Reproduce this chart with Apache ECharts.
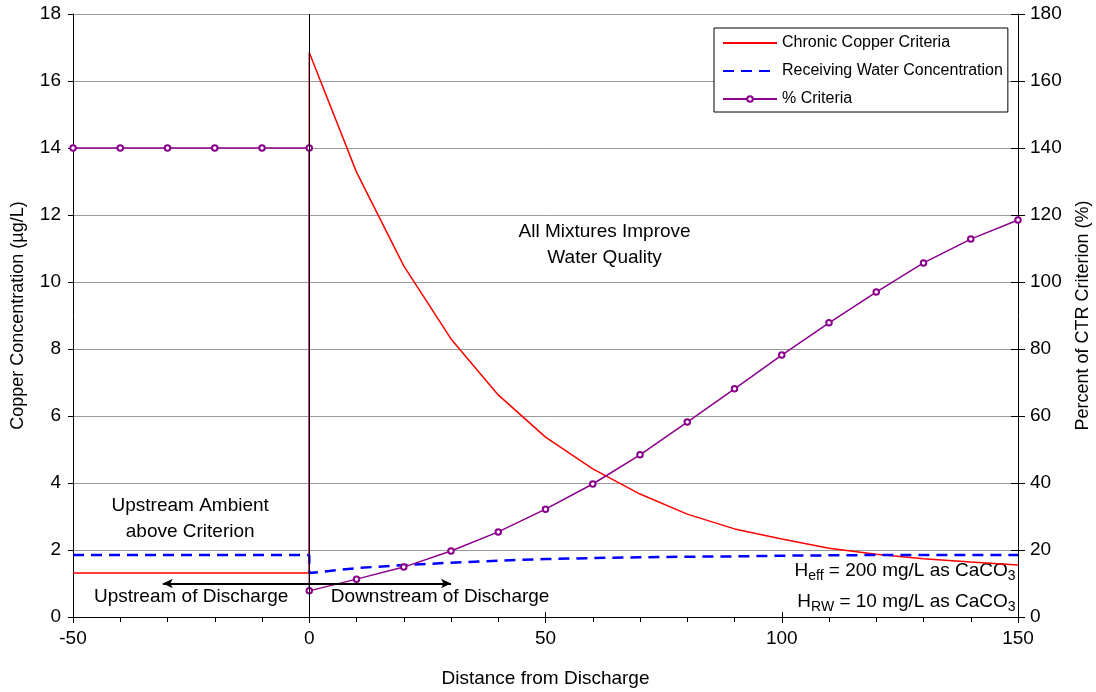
<!DOCTYPE html>
<html>
<head>
<meta charset="utf-8">
<script src="https://cdn.jsdelivr.net/npm/echarts@6/dist/echarts.min.js"></script>
<style>
html,body{margin:0;padding:0;background:#fff;}
#chart{width:1096px;height:692px;}
</style>
</head>
<body>
<div id="chart"></div>
<script>
// ---- data ----
const xTicks = [-50, 0, 50, 100, 150];
const criteriaX = [-50, 0, 0, 10, 20, 30, 40, 50, 60, 70, 80, 90, 100, 110, 120, 130, 140, 150];
const criteriaY = [1.31, 1.31, 16.85, 13.28, 10.48, 8.3, 6.63, 5.37, 4.42, 3.67, 3.07, 2.63, 2.33, 2.05, 1.87, 1.74, 1.64, 1.55];
const receivingX = [-50, 0, 0, 10, 20, 30, 40, 50, 60, 70, 80, 90, 100, 110, 120, 130, 140, 150];
const receivingY = [1.85, 1.85, 1.31, 1.46, 1.55, 1.62, 1.68, 1.73, 1.76, 1.78, 1.80, 1.81, 1.83, 1.84, 1.85, 1.85, 1.85, 1.85];
const percentX = [-50, -40, -30, -20, -10, 0, 0, 10, 20, 30, 40, 50, 60, 70, 80, 90, 100, 110, 120, 130, 140, 150];
const percentY = [140, 140, 140, 140, 140, 140, 7.8, 11.3, 14.9, 19.7, 25.4, 32.2, 39.7, 48.4, 58.2, 68.1, 78.2, 87.8, 97.0, 105.7, 112.8, 118.5];
const seriesNames = ['Chronic Copper Criteria', 'Receiving Water Concentration', '% Criteria'];
const arrowFrom = [-31, 1.0];
const arrowTo = [30, 1.0];
const notes = [
  {text: 'Upstream Ambient\nabove Criterion', at: [-25.2, 2.93], align: 'center'},
  {text: 'Upstream of Discharge', at: [-25, 0.6], align: 'center'},
  {text: 'Downstream of Discharge', at: [27.7, 0.6], align: 'center'},
  {text: 'All Mixtures Improve\nWater Quality', at: [62.5, 11.1], align: 'center'},
  {text: '{n|H}{s|eff}{n| = 200 mg/L as CaCO}{s|3}', at: [149.5, 1.38], align: 'right'},
  {text: '{n|H}{s|RW}{n| = 10 mg/L as CaCO}{s|3}', at: [149.5, 0.46], align: 'right'}
];

const zip = (xs, ys) => xs.map((x, i) => [x, ys[i]]);
const FONT = '"Liberation Sans", Arial, sans-serif';

const chart = echarts.init(document.getElementById('chart'), null, {renderer: 'canvas'});
const option = {
  animation: false,
  backgroundColor: '#ffffff',
  textStyle: {fontFamily: FONT, color: '#000'},
  grid: {left: 73, right: 78, top: 14, bottom: 75, containLabel: false, outerBoundsMode: 'none'},
  legend: {
    data: [
      {name: seriesNames[0], itemStyle: {opacity: 0}},
      {name: seriesNames[1], itemStyle: {opacity: 0}},
      {name: seriesNames[2]}
    ],
    orient: 'vertical',
    left: 714, top: 28,
    backgroundColor: '#fff',
    borderColor: '#000', borderWidth: 1,
    padding: [6, 5, 4, 8],
    itemWidth: 54, itemHeight: 7, itemGap: 10,
    textStyle: {fontFamily: FONT, fontSize: 16, color: '#000', padding: [0, 0, 0, 0], lineHeight: 18}
  },
  xAxis: [{
    type: 'value', min: -50, max: 150, interval: 50,
    name: 'Distance from Discharge', nameLocation: 'middle', nameGap: 52,
    nameTextStyle: {fontFamily: FONT, fontSize: 19, color: '#000'},
    axisLine: {show: true, onZero: false, lineStyle: {color: '#000', width: 1}},
    axisTick: {show: true, length: 6, lineStyle: {color: '#000'}},
    minorTick: {show: true, splitNumber: 5, length: 5, lineStyle: {color: '#000'}},
    axisLabel: {fontFamily: FONT, fontSize: 19, color: '#000', margin: 12,
      formatter: v => xTicks.includes(v) ? String(v) : ''},
    splitLine: {show: false}
  }, {
    type: 'value', min: -50, max: 150, interval: 50, position: 'bottom',
    axisLine: {show: false, onZero: false},
    axisTick: {show: true, inside: true, length: 5, lineStyle: {color: '#000'}},
    axisLabel: {show: false}, splitLine: {show: false}
  }],
  yAxis: [{
    type: 'value', min: 0, max: 18, interval: 2, position: 'left',
    name: 'Copper Concentration (µg/L)', nameLocation: 'middle', nameGap: 46, nameRotate: 90,
    nameTextStyle: {fontFamily: FONT, fontSize: 18, color: '#000'},
    axisLine: {show: true, onZero: false, lineStyle: {color: '#000', width: 1}},
    axisTick: {show: true, length: 5, lineStyle: {color: '#000'}},
    axisLabel: {fontFamily: FONT, fontSize: 19, color: '#000', margin: 12},
    splitLine: {show: true, lineStyle: {color: '#999', width: 1}}
  }, {
    type: 'value', min: 0, max: 180, interval: 20, position: 'right',
    name: 'Percent of CTR Criterion (%)', nameLocation: 'middle', nameGap: 56, nameRotate: 90,
    nameTextStyle: {fontFamily: FONT, fontSize: 18, color: '#000'},
    axisLine: {show: true, onZero: false, lineStyle: {color: '#000', width: 1}},
    axisTick: {show: true, length: 7, lineStyle: {color: '#000'}},
    axisLabel: {fontFamily: FONT, fontSize: 19, color: '#000', margin: 12},
    splitLine: {show: false}
  }, {
    type: 'value', min: 0, max: 180, interval: 20, position: 'right',
    axisLine: {show: false, onZero: false},
    axisTick: {show: true, inside: true, length: 7, lineStyle: {color: '#000'}},
    axisLabel: {show: false}, splitLine: {show: false}
  }],
  series: [
    {
      name: 'annotations', type: 'scatter', xAxisIndex: 0, yAxisIndex: 0,
      symbolSize: 1, itemStyle: {color: 'rgba(0,0,0,0)', opacity: 1}, silent: true, z: 1,
      data: notes.map(n => ({
        value: n.at,
        label: {
          show: true, position: 'inside', formatter: n.text, align: n.align,
          verticalAlign: 'middle',
          fontFamily: FONT, fontSize: 19, color: '#000', lineHeight: 26,
          rich: {
            n: {fontFamily: FONT, fontSize: 19, color: '#000'},
            s: {fontFamily: FONT, fontSize: 14, color: '#000', padding: [11, 0, 0, 0]}
          }
        }
      })),
      markLine: {
        silent: true, animation: false,
        label: {show: false},
        data: [
          [{coord: [0, 0], symbol: 'none'}, {coord: [0, 18], symbol: 'none', lineStyle: {color: '#000', width: 1, type: 'solid'}}],
          [{coord: arrowFrom, symbol: 'arrow'}, {coord: arrowTo, symbol: 'arrow', lineStyle: {color: '#000', width: 2, type: 'solid'}}]
        ],
        symbolSize: [7, 10],
        lineStyle: {color: '#000', width: 1, type: 'solid'}
      }
    },
    {
      name: seriesNames[0], type: 'line', xAxisIndex: 0, yAxisIndex: 0, z: 3,
      data: zip(criteriaX, criteriaY), showSymbol: false, symbol: 'none',
      lineStyle: {color: '#ff0000', width: 1.5}, itemStyle: {color: '#ff0000'}
    },
    {
      name: seriesNames[1], type: 'line', xAxisIndex: 0, yAxisIndex: 0, z: 3,
      data: zip(receivingX, receivingY), showSymbol: false, symbol: 'none',
      lineStyle: {color: '#0000ff', width: 2.5, type: [11, 7]}, itemStyle: {color: '#0000ff'}
    },
    {
      name: seriesNames[2], type: 'line', xAxisIndex: 0, yAxisIndex: 1, z: 4,
      data: zip(percentX, percentY), symbol: 'emptyCircle', symbolSize: 5.5, showSymbol: true,
      lineStyle: {color: '#8b008b', width: 1.5},
      itemStyle: {color: '#8b008b', borderColor: '#8b008b', borderWidth: 1.5}
    }
  ]
};
chart.setOption(option);
</script>
</body>
</html>
